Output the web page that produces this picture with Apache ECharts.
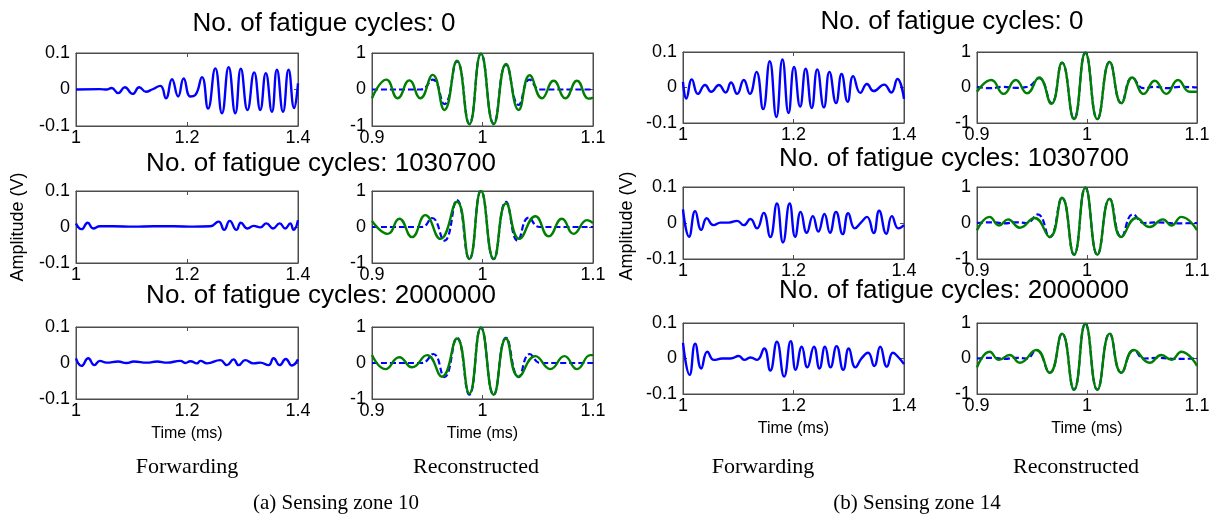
<!DOCTYPE html>
<html><head><meta charset="utf-8">
<script src="https://cdn.jsdelivr.net/npm/echarts@6/dist/echarts.min.js"></script>
<style>html,body{margin:0;padding:0;background:#fff}#c{width:1218px;height:524px}</style>
</head><body><div id="c"></div>
<script>
// ---------- axis ranges / ticks ----------
const fwdXTicks = [1, 1.2, 1.4];
const fwdYTicks = [-0.1, 0, 0.1];
const recXTicks = [0.9, 1, 1.1];
const recYTicks = [-1, 0, 1];

// ---------- titles & labels ----------
const cycleTitles = ["No. of fatigue cycles: 0", "No. of fatigue cycles: 1030700", "No. of fatigue cycles: 2000000"];
const columnLabels = ["Forwarding", "Reconstructed"];
const zoneLabels = ["(a) Sensing zone 10", "(b) Sensing zone 14"];
const xAxisTitle = "Time (ms)";
const yAxisTitle = "Amplitude (V)";

// ---------- (a) Sensing zone 10 : forwarding signals ----------
const aFwd0 = [[1.000,0],[1.043,0.001],[1.055,0],[1.064,0.004],[1.076,-0.010],[1.088,0.006],[1.102,-0.012],[1.114,0.006],[1.126,-0.006],[1.137,0],[1.152,0.010],[1.162,-0.024],[1.173,0.028],[1.184,-0.019],[1.194,0.030],[1.206,-0.019],[1.215,-0.015],[1.227,0.034],[1.238,-0.052],[1.251,0.058],[1.263,-0.065],[1.275,0.061],[1.287,-0.065],[1.297,0.057],[1.309,-0.056],[1.321,0.047],[1.332,-0.056],[1.342,0.045],[1.353,-0.061],[1.362,0.054],[1.373,-0.061],[1.383,0.054],[1.393,-0.051],[1.400,0.017]];
const aFwd1 = [[1.000,0.010],[1.010,-0.006],[1.021,0.012],[1.031,-0.004],[1.043,0.002],[1.067,0.002],[1.104,0.001],[1.140,0.002],[1.176,0.002],[1.212,0.001],[1.242,0.002],[1.257,0.015],[1.267,-0.008],[1.277,0.017],[1.289,-0.008],[1.297,0.012],[1.309,-0.004],[1.320,0.003],[1.332,-0.001],[1.343,0.010],[1.355,-0.004],[1.367,0.010],[1.377,-0.004],[1.386,0.010],[1.392,-0.008],[1.400,0.019]];
const aFwd2 = [[1.000,0.013],[1.010,-0.008],[1.022,0.013],[1.033,-0.006],[1.043,0.006],[1.055,0.001],[1.076,0.004],[1.091,0],[1.104,0.004],[1.128,0.001],[1.146,0.004],[1.164,0.001],[1.188,0.006],[1.197,0],[1.206,0.005],[1.218,-0.001],[1.224,0.006],[1.236,-0.001],[1.260,0.008],[1.272,-0.006],[1.284,0.010],[1.293,-0.006],[1.305,0.008],[1.320,-0.001],[1.332,0.001],[1.347,-0.006],[1.356,0.013],[1.367,-0.006],[1.378,0.011],[1.389,-0.007],[1.400,0.010]];

// ---------- (a) reconstructed signals ----------
const aRecBlue0 = [[0.900,0],[0.944,0],[0.9549,0.27],[0.9655,-0.40],[0.9769,0.77],[0.9881,-0.93],[0.9986,0.98],[1.0101,-0.93],[1.0213,0.68],[1.0327,-0.42],[1.0427,0.27],[1.0523,0],[1.100,0]];
const aRecGreen0 = [[0.900,-0.24],[0.9130,0.27],[0.9232,-0.24],[0.9338,0.25],[0.9437,-0.24],[0.9549,0.40],[0.9655,-0.56],[0.9769,0.79],[0.9881,-0.95],[0.9986,0.98],[1.0101,-0.95],[1.0213,0.70],[1.0327,-0.56],[1.0427,0.39],[1.0538,-0.24],[1.0644,0.24],[1.0750,-0.24],[1.0855,0.24],[1.0961,-0.25],[1.100,-0.22]];
const aRecBlue1 = [[0.900,0],[0.945,0],[0.9543,0.25],[0.9655,-0.38],[0.9769,0.75],[0.9881,-0.89],[0.9986,1.0],[1.0101,-0.89],[1.0213,0.70],[1.0318,-0.38],[1.0418,0.26],[1.0517,0],[1.100,0]];
const aRecGreen1 = [[0.900,0.17],[0.9142,-0.19],[0.9247,0.23],[0.9362,-0.28],[0.9483,0.33],[0.9618,-0.33],[0.9769,0.70],[0.9881,-0.89],[0.9986,1.0],[1.0101,-0.89],[1.0213,0.66],[1.0333,-0.33],[1.0478,0.30],[1.0599,-0.26],[1.0719,0.23],[1.0825,-0.19],[1.0946,0.19],[1.100,0.11]];
const aRecBlue2 = [[0.900,0],[0.945,0],[0.9555,0.25],[0.9655,-0.39],[0.9769,0.70],[0.9881,-0.88],[0.9986,0.98],[1.0101,-0.88],[1.0213,0.70],[1.0327,-0.39],[1.0427,0.25],[1.0525,0],[1.100,0]];
const aRecGreen2 = [[0.900,0.22],[0.9121,-0.17],[0.9247,0.16],[0.9362,-0.12],[0.9498,0.22],[0.9633,-0.38],[0.9769,0.68],[0.9881,-0.85],[0.9986,0.98],[1.0101,-0.88],[1.0213,0.68],[1.0327,-0.38],[1.0478,0.19],[1.0614,-0.17],[1.0741,0.19],[1.0855,-0.17],[1.0976,0.22],[1.100,0.22]];

// ---------- (b) Sensing zone 14 : forwarding signals ----------
const bFwd0 = [[1.000,0.016],[1.006,-0.031],[1.016,0.023],[1.027,-0.018],[1.040,0.007],[1.051,-0.012],[1.065,0.007],[1.077,-0.014],[1.087,0.014],[1.098,-0.018],[1.110,0.021],[1.121,-0.018],[1.133,0.044],[1.145,-0.061],[1.157,0.074],[1.169,-0.083],[1.180,0.079],[1.191,-0.072],[1.201,0.058],[1.212,-0.054],[1.222,0.053],[1.233,-0.058],[1.243,0.051],[1.255,-0.056],[1.265,0.044],[1.277,-0.044],[1.287,0.038],[1.298,-0.040],[1.308,0.032],[1.321,-0.015],[1.333,0.010],[1.345,-0.010],[1.364,0.008],[1.377,-0.014],[1.388,0.024],[1.400,-0.032]];
const bFwd1 = [[1.000,0.038],[1.011,-0.038],[1.022,0.033],[1.033,-0.019],[1.043,0.013],[1.055,-0.006],[1.068,0.001],[1.083,0.001],[1.098,0.006],[1.110,-0.006],[1.122,0.011],[1.134,-0.015],[1.146,0.028],[1.158,-0.039],[1.170,0.054],[1.181,-0.054],[1.193,0.054],[1.203,-0.038],[1.213,0.031],[1.224,-0.027],[1.235,0.019],[1.245,-0.024],[1.256,0.025],[1.266,-0.027],[1.277,0.031],[1.289,-0.031],[1.299,0.027],[1.311,-0.015],[1.322,0.001],[1.333,0.017],[1.345,-0.028],[1.355,0.034],[1.368,-0.030],[1.378,0.019],[1.390,-0.015],[1.400,-0.006]];
const bFwd2 = [[1.000,0.044],[1.012,-0.046],[1.022,0.042],[1.033,-0.028],[1.044,0.019],[1.056,-0.004],[1.071,0],[1.086,0],[1.101,0.007],[1.111,-0.004],[1.122,0.003],[1.134,-0.004],[1.147,0.028],[1.158,-0.034],[1.170,0.047],[1.183,-0.051],[1.195,0.049],[1.204,-0.032],[1.215,0.033],[1.225,-0.025],[1.237,0.033],[1.247,-0.028],[1.257,0.033],[1.267,-0.025],[1.278,0.035],[1.290,-0.032],[1.300,0.028],[1.312,-0.025],[1.323,0],[1.335,0.016],[1.346,-0.021],[1.357,0.033],[1.369,-0.023],[1.380,0.016],[1.389,0.005],[1.400,-0.016]];

// ---------- (b) reconstructed signals ----------
const bRecBlue0 = [[0.900,0.02],[0.912,-0.02],[0.924,0.02],[0.935,-0.01],[0.946,0.02],[0.9564,0.26],[0.9676,-0.44],[0.9773,0.70],[0.9882,-0.89],[0.9985,0.98],[1.0094,-0.89],[1.0206,0.72],[1.0312,-0.44],[1.0412,0.28],[1.0515,-0.02],[1.062,0.02],[1.073,-0.02],[1.084,0.02],[1.100,0]];
const bRecGreen0 = [[0.900,-0.12],[0.9130,0.21],[0.9242,-0.18],[0.9352,0.21],[0.9455,-0.16],[0.9564,0.28],[0.9676,-0.46],[0.9773,0.70],[0.9882,-0.89],[0.9985,0.98],[1.0094,-0.89],[1.0206,0.72],[1.0312,-0.44],[1.0412,0.28],[1.0515,-0.18],[1.0615,0.19],[1.0721,-0.18],[1.0827,0.21],[1.0933,-0.12],[1.100,-0.12]];
const bRecBlue1 = [[0.900,0],[0.915,0.02],[0.925,-0.01],[0.935,0.02],[0.945,0],[0.9552,0.24],[0.9661,-0.39],[0.9773,0.70],[0.9882,-0.88],[0.9985,0.98],[1.0094,-0.88],[1.0206,0.67],[1.0312,-0.39],[1.0418,0.24],[1.052,0],[1.065,0.02],[1.080,-0.01],[1.100,0]];
const bRecGreen1 = [[0.900,-0.20],[0.9115,0.17],[0.9200,-0.07],[0.9282,0.10],[0.9388,-0.13],[0.9524,0.14],[0.9661,-0.39],[0.9773,0.70],[0.9882,-0.88],[0.9985,0.98],[1.0094,-0.88],[1.0206,0.67],[1.0312,-0.39],[1.0448,0.14],[1.0570,-0.11],[1.0691,0.10],[1.0767,-0.07],[1.0858,0.17],[1.100,-0.20]];
const bRecBlue2 = [[0.900,0],[0.915,0.02],[0.925,-0.01],[0.935,0.02],[0.945,0],[0.9539,0.24],[0.9661,-0.40],[0.9773,0.70],[0.9882,-0.88],[0.9985,0.98],[1.0094,-0.88],[1.0206,0.70],[1.0312,-0.40],[1.0427,0.24],[1.052,0],[1.065,0.02],[1.080,-0.01],[1.100,0]];
const bRecGreen2 = [[0.900,-0.25],[0.9115,0.19],[0.9200,-0.04],[0.9297,0.10],[0.9388,-0.12],[0.9539,0.24],[0.9661,-0.40],[0.9773,0.70],[0.9882,-0.88],[0.9985,0.98],[1.0094,-0.88],[1.0206,0.70],[1.0312,-0.40],[1.0427,0.24],[1.0570,-0.12],[1.0676,0.10],[1.0767,-0.04],[1.0858,0.19],[1.100,-0.21]];

// ---------- layout ----------
const SANS = 'Liberation Sans';
const AXC = '#4d4d4d';
const BLUE = '#0000ff', GREEN = '#008000';

const panels = [
  {l:76, t:53, w:222, h:73, kind:'fwd', lines:[aFwd0]},
  {l:372,t:53, w:221, h:73, kind:'rec', lines:[aRecBlue0, aRecGreen0]},
  {l:76, t:191,w:222, h:72, kind:'fwd', lines:[aFwd1]},
  {l:372,t:191,w:221, h:72, kind:'rec', lines:[aRecBlue1, aRecGreen1]},
  {l:76, t:327,w:222, h:72, kind:'fwd', lines:[aFwd2], xname:true},
  {l:372,t:327,w:221, h:72, kind:'rec', lines:[aRecBlue2, aRecGreen2], xname:true},
  {l:683,t:52, w:221, h:71, kind:'fwd', lines:[bFwd0]},
  {l:977,t:52, w:220, h:71, kind:'rec', lines:[bRecBlue0, bRecGreen0]},
  {l:683,t:187,w:221, h:72, kind:'fwd', lines:[bFwd1]},
  {l:977,t:187,w:220, h:72, kind:'rec', lines:[bRecBlue1, bRecGreen1]},
  {l:683,t:323,w:221, h:71, kind:'fwd', lines:[bFwd2], xname:true},
  {l:977,t:323,w:220, h:71, kind:'rec', lines:[bRecBlue2, bRecGreen2], xname:true}
];

const grid = [], xAxis = [], yAxis = [], series = [];
panels.forEach((p, i) => {
  grid.push({left:p.l, top:p.t, width:p.w, height:p.h, show:true, borderColor:AXC, borderWidth:1, backgroundColor:'#fff', containLabel:false});
  const xt = p.kind === 'fwd' ? fwdXTicks : recXTicks;
  const yt = p.kind === 'fwd' ? fwdYTicks : recYTicks;
  const common = () => ({axisLine:{show:true, onZero:false, lineStyle:{color:AXC, width:1}}, splitLine:{show:false},
                  axisTick:{show:true, inside:true, length:4, lineStyle:{color:AXC}}});
  xAxis.push(Object.assign({type:'value', gridIndex:i, position:'bottom', min:xt[0], max:xt[xt.length-1], interval:xt[1]-xt[0],
    axisLabel:{show:true, color:'#000', fontFamily:SANS, fontSize:18, margin:3, showMinLabel:true, showMaxLabel:true,
      formatter: v => String(+v.toFixed(2))},
    name: p.xname ? xAxisTitle : '', nameLocation:'middle', nameGap:27,
    nameTextStyle:{color:'#000', fontFamily:SANS, fontSize:16}}, common()));
  xAxis.push(Object.assign({type:'value', gridIndex:i, position:'top', min:xt[0], max:xt[xt.length-1], interval:xt[1]-xt[0],
    axisLabel:{show:false}}, common()));
  yAxis.push(Object.assign({type:'value', gridIndex:i, position:'left', min:yt[0], max:yt[yt.length-1], interval:yt[1]-yt[0],
    axisLabel:{show:true, color:'#000', fontFamily:SANS, fontSize:18, margin:6,
      formatter: v => String(+v.toFixed(2))}}, common()));
  yAxis.push(Object.assign({type:'value', gridIndex:i, position:'right', min:yt[0], max:yt[yt.length-1], interval:yt[1]-yt[0],
    axisLabel:{show:false}}, common()));
  if (p.kind === 'fwd') {
    series.push({type:'line', xAxisIndex:2*i, yAxisIndex:2*i, data:p.lines[0], showSymbol:false, smooth:0.5,
      lineStyle:{color:BLUE, width:2.4}, animation:false});
  } else {
    series.push({type:'line', xAxisIndex:2*i, yAxisIndex:2*i, data:p.lines[0], showSymbol:false, smooth:0.5,
      lineStyle:{color:BLUE, width:2.2, type:[6,3]}, animation:false});
    series.push({type:'line', xAxisIndex:2*i, yAxisIndex:2*i, data:p.lines[1], showSymbol:false, smooth:0.5,
      lineStyle:{color:GREEN, width:2.4}, animation:false});
  }
});

function txt(x, y, s, font, opts) {
  return Object.assign({type:'text', x:x, y:y, style:{text:s, font:font, fill:'#000', textAlign:'center', textVerticalAlign:'middle'}}, opts || {});
}
const graphic = [
  txt(324, 24, cycleTitles[0], '26px "Liberation Sans"'),
  txt(321, 164, cycleTitles[1], '26px "Liberation Sans"'),
  txt(321, 296, cycleTitles[2], '26px "Liberation Sans"'),
  txt(952, 22, cycleTitles[0], '26px "Liberation Sans"'),
  txt(954, 159, cycleTitles[1], '26px "Liberation Sans"'),
  txt(954, 291, cycleTitles[2], '26px "Liberation Sans"'),
  txt(18, 227, yAxisTitle, '18px "Liberation Sans"', {rotation:Math.PI/2}),
  txt(627, 226, yAxisTitle, '18px "Liberation Sans"', {rotation:Math.PI/2}),
  txt(187, 467, columnLabels[0], '22px "Liberation Serif"'),
  txt(476, 467, columnLabels[1], '22px "Liberation Serif"'),
  txt(763, 467, columnLabels[0], '22px "Liberation Serif"'),
  txt(1076, 467, columnLabels[1], '22px "Liberation Serif"'),
  txt(336, 503, zoneLabels[0], '21px "Liberation Serif"'),
  txt(917, 503, zoneLabels[1], '21px "Liberation Serif"')
];

const chart = echarts.init(document.getElementById('c'), null, {renderer:'canvas'});
chart.setOption({backgroundColor:'#fff', animation:false, grid, xAxis, yAxis, series, graphic});
</script></body></html>
